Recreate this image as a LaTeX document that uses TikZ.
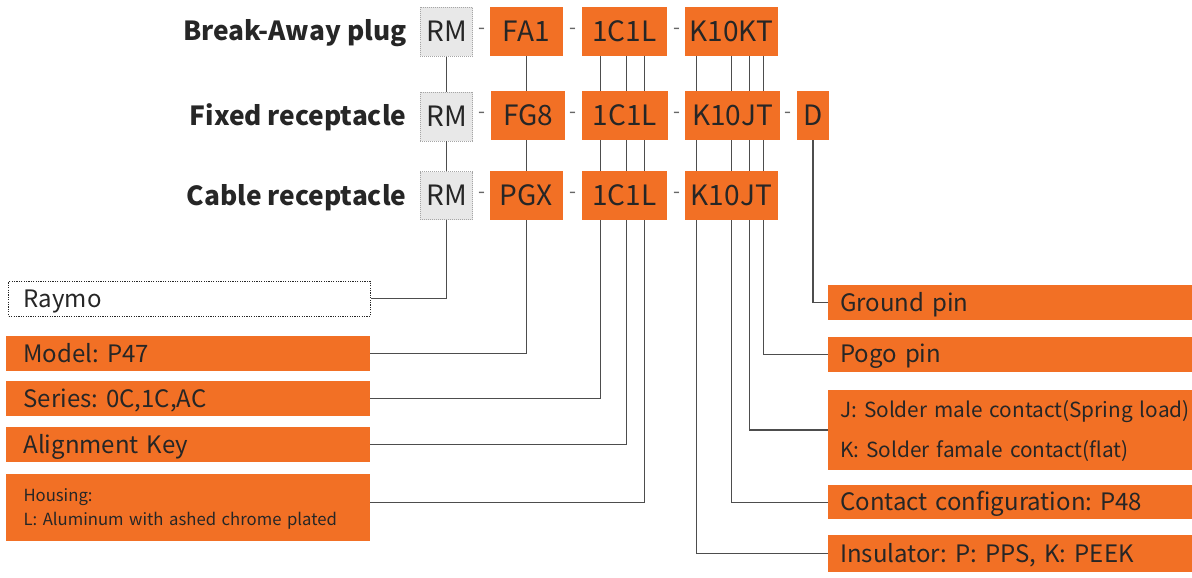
\documentclass[tikz,border=0pt]{standalone}
\usepackage{fontspec}
\setmainfont{Noto Sans CJK SC}
\frenchspacing
\definecolor{org}{RGB}{242,112,37}
\definecolor{txt}{RGB}{38,38,38}
\definecolor{ln}{RGB}{77,77,77}
\begin{document}
\begin{tikzpicture}[x=1pt,y=-1pt,
  code/.style={fill=org, text=txt, font=\fontsize{28}{32}\selectfont, inner sep=0pt, minimum height=49pt, text height=20pt, text depth=0pt},
  rmbox/.style={code, fill=gray!18, draw=gray!70, dash pattern=on 1pt off 1pt, line width=0.8pt},
  lbl/.style={font=\bfseries\fontsize{26.3}{30}\selectfont, text=txt, inner sep=0pt, text height=19pt, text depth=0pt, anchor=east},
  sepr/.style={font=\fontsize{20}{24}\selectfont, text=gray!80!black, inner sep=0pt},
  descl/.style={fill=org, text=txt, font=\fontsize{24}{28}\selectfont, inner ysep=0pt, inner xsep=17.3pt, text width=329.4pt, align=left, anchor=west, text height=17.5pt, text depth=0pt},
  descr/.style={descl, inner xsep=12pt, text width=340pt},
  wire/.style={draw=ln, line width=1.3pt}
]
\useasboundingbox (0,0) rectangle (1192,578);
% row labels
\node[lbl] (lab1) at (406.7,31.5) {Break-Away plug};
\node[lbl] (lab2) at (406.7,115.8) {Fixed receptacle};
\node[lbl] (lab3) at (406.7,195.6) {Cable receptacle};
% RM boxes
\node[rmbox, minimum width=52.4pt] (rm1) at (446.5,31.8) {RM};
\node[rmbox, minimum width=52.4pt] (rm2) at (446.5,116.5) {RM};
\node[rmbox, minimum width=52.4pt, minimum height=48pt] (rm3) at (446.5,195.8) {RM};
% model boxes
\node[code, minimum width=73pt] (fa) at (526.3,31.2) {FA1};
\node[code, minimum width=74pt] (fg) at (528,115.4) {FG8};
\node[code, minimum width=73pt] (pg) at (526.3,195.5) {PGX};
% series boxes
\node[code, minimum width=85pt] (c1) at (624.2,31.2) {1C1L};
\node[code, minimum width=86.3pt] (c2) at (624.85,115.4) {1C1L};
\node[code, minimum width=85pt] (c3) at (624.2,195.5) {1C1L};
% contact boxes
\node[code, minimum width=92.7pt] (k1) at (731.35,31.2) {K10KT};
\node[code, minimum width=95pt] (k2) at (732.5,115.4) {K10JT};
\node[code, minimum width=92.7pt] (k3) at (731.35,195.5) {K10JT};
\node[code, minimum width=32.3pt] (dd) at (812.85,115.4) {D};
% separators
\foreach \r/\y in {1/31.2,2/115.4,3/195.5}{
  \node[sepr] (sa\r) at (481.7,\y) {-};
  \node[sepr] (sb\r) at (572.7,\y) {-};
  \node[sepr] (sc\r) at (676.7,\y) {-};
}
\node[sepr] (sd2) at (788.3,115.4) {-};
% description boxes left
\node[descl, fill=white, draw=txt, dash pattern=on 1.2pt off 1.2pt, line width=0.9pt, minimum height=34.3pt, inner xsep=15pt, text width=331.7pt, xshift=2.3pt] (raymo) at (6,298.8) {Raymo};
\node[descl, minimum height=34.7pt] (model) at (6,353.3) {Model: P47};
\node[descl, minimum height=34.7pt] (series) at (6,398.3) {Series: 0C,1C,AC};
\node[descl, minimum height=34.7pt] (align) at (6,444.3) {Alignment Key};
\node[descl, minimum height=66.7pt, font=\fontsize{16.7}{23.3}\selectfont, text height=12.2pt, text depth=23.3pt] (housing) at (6,507.3) {Housing:\\L: Aluminum with ashed chrome plated};
% description boxes right
\node[descr, minimum height=35pt] (ground) at (828,302.5) {Ground pin};
\node[descr, minimum height=35pt] (pogo) at (828,354.2) {Pogo pin};
\node[descr, minimum height=80pt, font=\fontsize{20.8}{39.3}\selectfont, text height=15.2pt, text depth=39.3pt, text width=360pt] (jk) at (828,430) {J: Solder male contact(Spring load)\\K: Solder famale contact(flat)};
\node[descr, minimum height=34.3pt] (contact) at (828,502.2) {Contact configuration: P48};
\node[descr, minimum height=37pt] (insul) at (828,553.5) {Insulator: P: PPS, K: PEEK};
% wire x positions
\coordinate (s1) at (600.7,0);
\coordinate (s2) at (626.7,0);
\coordinate (s3) at (644.7,0);
\coordinate (t1) at (696.7,0);
\coordinate (t2) at (731.7,0);
\coordinate (t3) at (749.3,0);
\coordinate (t4) at (763.3,0);
% wires
\draw[wire] (rm1.south) -- (rm2.north);
\draw[wire] (rm2.south) -- (rm3.north);
\draw[wire] (rm3.south) |- (raymo.east);
\draw[wire] (fa.south) -- (fa.south |- fg.north);
\draw[wire] (fa.south |- fg.south) -- (fa.south |- pg.north);
\draw[wire] (pg.south) |- (model.east);
\foreach \s/\tg in {s1/series,s2/align}{
  \draw[wire] (\s |- c1.south) -- (\s |- c2.north);
  \draw[wire] (\s |- c2.south) -- (\s |- c3.north);
  \draw[wire] (\s |- c3.south) |- (\tg.east);
}
\draw[wire] (s3 |- c1.south) -- (s3 |- c2.north);
\draw[wire] (s3 |- c2.south) -- (s3 |- c3.north);
\draw[wire] (s3 |- c3.south) |- ([yshift=4.6pt]housing.east);
\foreach \s/\tg in {t1/insul,t2/contact,t3/jk,t4/pogo}{
  \draw[wire] (\s |- k1.south) -- (\s |- k2.north);
  \draw[wire] (\s |- k2.south) -- (\s |- k3.north);
  \draw[wire] (\s |- k3.south) |- (\tg.west);
}
\draw[wire] (dd.south) |- (ground.west);
\end{tikzpicture}
\end{document}
